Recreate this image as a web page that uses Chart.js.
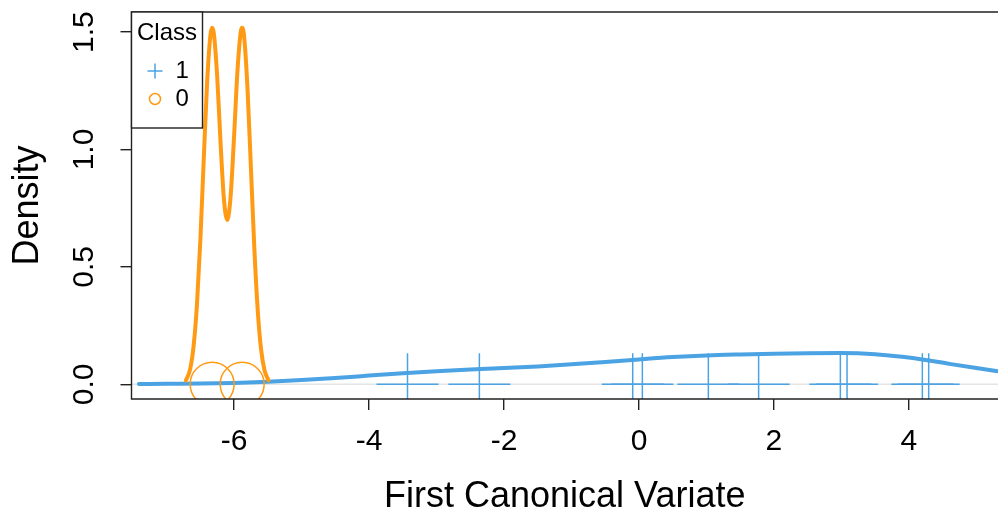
<!DOCTYPE html>
<html>
<head>
<meta charset="utf-8">
<script src="https://cdn.jsdelivr.net/npm/chart.js@4.4.1/dist/chart.umd.min.js"></script>
<style>
  html, body { margin: 0; padding: 0; background: #fff; }
  canvas { display: block; }
</style>
</head>
<body>
<canvas id="myChart" width="998" height="516"></canvas>
<script>
// values
const xTicks = [-6, -4, -2, 0, 2, 4];
const yTicks = [0, 0.5, 1.0, 1.5];

// class 1 density curve (blue)
const blueX = [-7.41, -7.0, -6.5, -6.0, -5.5, -5.0, -4.5, -4.0, -3.5, -3.0, -2.5, -2.0, -1.5, -1.0,
    -0.5, 0.0, 0.5, 1.0, 1.5, 2.0, 2.5, 3.0, 3.5, 3.9, 4.2, 4.6, 5.0, 5.4];
const blueY = [0.001, 0.002, 0.003, 0.006, 0.011, 0.018, 0.027, 0.037, 0.047, 0.056, 0.063, 0.069, 0.076, 0.085,
    0.095, 0.106, 0.116, 0.123, 0.127, 0.130, 0.132, 0.133, 0.128, 0.117, 0.106, 0.087, 0.069, 0.052];

// class 0 density curve (orange)
const orangeX = [-6.715, -6.65, -6.60, -6.55, -6.50, -6.45, -6.40, -6.35, -6.325, -6.30, -6.25, -6.20, -6.15,
    -6.10, -6.05, -6.00, -5.95, -5.90, -5.88, -5.85, -5.80, -5.75, -5.70, -5.65, -5.60, -5.55, -5.49];
const orangeY = [0.016, 0.066, 0.162, 0.339, 0.612, 0.954, 1.283, 1.489, 1.519, 1.495, 1.309, 1.027, 0.787,
    0.700, 0.806, 1.056, 1.334, 1.504, 1.519, 1.477, 1.253, 0.919, 0.581, 0.317, 0.149, 0.061, 0.017];

// observations (rug)
const class1 = [-3.43, -2.365, -0.093, 0.05, 1.028, 1.773, 2.984, 3.083, 4.199, 4.293];
const class0 = [-6.325, -5.88];

const blue = "#4BA3E3";
const orange = "#FF9A14";
const font = "'Liberation Sans', Arial, sans-serif";

function pts(xs, ys) {
    return xs.map((x, i) => ({x: x, y: ys[i]}));
}

// the rotated "1.5" label makes chart.js keep room at the top, R does not
function noPadding(scale) {
    scale.paddingTop = 0;
    scale.paddingBottom = 0;
}

// box around the plot (no right side, it runs off the page) + legend
const boxAndLegend = {
    id: "boxAndLegend",
    afterDraw(chart) {
        const {ctx, chartArea} = chart;
        const {left, top, right, bottom} = chartArea;
        ctx.save();
        ctx.strokeStyle = "#222";
        ctx.lineWidth = 1.4;
        ctx.beginPath();
        ctx.moveTo(right + 2, top);
        ctx.lineTo(left, top);
        ctx.lineTo(left, bottom);
        ctx.lineTo(right + 2, bottom);
        ctx.stroke();

        // legend
        let lx = left, ly = top, lw = 71, lh = 116;
        ctx.fillStyle = "#fff";
        ctx.fillRect(lx, ly, lw, lh);
        ctx.strokeRect(lx, ly, lw, lh);
        ctx.fillStyle = "#000";
        ctx.font = "24px " + font;
        ctx.textBaseline = "middle";
        ctx.textAlign = "center";
        ctx.fillText("Class", lx + lw / 2, ly + 21);

        const items = chart.data.datasets.filter(d => d.legendItem);
        items.forEach((d, i) => {
            let cy = ly + 59 + i * 28;
            let cx = lx + 23.5;
            ctx.strokeStyle = d.borderColor;
            ctx.lineWidth = 1.5;
            ctx.beginPath();
            if (d.pointStyle == "cross") {
                ctx.moveTo(cx - 7.5, cy);
                ctx.lineTo(cx + 7.5, cy);
                ctx.moveTo(cx, cy - 7.5);
                ctx.lineTo(cx, cy + 7.5);
            } else {
                ctx.arc(cx, cy, 5.5, 0, Math.PI * 2);
            }
            ctx.stroke();
            ctx.fillStyle = "#000";
            ctx.textAlign = "left";
            ctx.fillText(d.label, lx + 44, cy);
        });
        ctx.restore();
    }
};

const ctx = document.getElementById("myChart");
const config = {
    type: "scatter",
    data: {
        datasets: [
            {
                label: "1",
                legendItem: true,
                data: class1.map(x => ({x: x, y: 0})),
                pointStyle: "cross",
                pointRadius: 31,
                borderColor: blue,
                borderWidth: 1.5,
                clip: 0,
                order: 1,
            },
            {
                label: "0",
                legendItem: true,
                data: class0.map(x => ({x: x, y: 0})),
                pointStyle: "circle",
                pointRadius: 22,
                borderColor: orange,
                backgroundColor: "rgba(0,0,0,0)",
                borderWidth: 1.5,
                clip: 0,
                order: 2,
            },
            {
                label: "density 0",
                data: pts(orangeX, orangeY),
                showLine: true,
                pointRadius: 0,
                borderColor: orange,
                borderWidth: 4,
                borderCapStyle: "round",
                cubicInterpolationMode: "monotone",
                clip: 0,
                order: 3,
            },
            {
                label: "density 1",
                data: pts(blueX, blueY),
                showLine: true,
                pointRadius: 0,
                borderColor: blue,
                borderWidth: 4,
                borderCapStyle: "round",
                cubicInterpolationMode: "monotone",
                clip: 0,
                order: 4,
            },
            {
                label: "zero",
                data: [{x: -7.52, y: 0}, {x: 5.4, y: 0}],
                showLine: true,
                pointRadius: 0,
                borderColor: "#e4e4e4",
                borderWidth: 1.5,
                order: 5,
            },
        ]
    },
    options: {
        responsive: false,
        animation: false,
        layout: {
            autoPadding: false,
            padding: {top: 12, left: 0, right: 0, bottom: 0}
        },
        plugins: {
            legend: {display: false},
            tooltip: {enabled: false},
        },
        scales: {
            x: {
                type: "linear",
                min: -7.52,
                max: 5.32,
                afterBuildTicks: (scale) => { scale.ticks = xTicks.map(v => ({value: v})); },
                afterFit: (scale) => { scale.height = 117; },
                grid: {drawOnChartArea: false, drawTicks: true, tickLength: 11, color: "#222", lineWidth: 1.4},
                border: {display: false},
                ticks: {
                    autoSkip: false,
                    maxRotation: 0,
                    padding: 14,
                    color: "#000",
                    font: {family: font, size: 30},
                    callback: (v) => String(v),
                },
                title: {
                    display: true,
                    text: "First Canonical Variate",
                    color: "#000",
                    font: {family: font, size: 36},
                    padding: {top: 0, bottom: -3},
                },
            },
            y: {
                type: "linear",
                min: -0.0626,
                max: 1.5856,
                afterBuildTicks: (scale) => { scale.ticks = yTicks.map(v => ({value: v})); },
                afterFit: (scale) => { scale.width = 131.5; noPadding(scale); },
                grid: {drawOnChartArea: false, drawTicks: true, tickLength: 11, color: "#222", lineWidth: 1.4},
                border: {display: false},
                ticks: {
                    autoSkip: false,
                    minRotation: 90,
                    maxRotation: 90,
                    crossAlign: "center",
                    padding: 15,
                    color: "#000",
                    font: {family: font, size: 30},
                    callback: (v) => v.toFixed(1),
                },
                title: {
                    display: true,
                    text: "Density",
                    color: "#000",
                    font: {family: font, size: 36},
                    padding: {top: 6, bottom: 0},
                },
            },
        },
    },
    plugins: [boxAndLegend],
};
const chart = new Chart(ctx, config);
</script>
</body>
</html>
